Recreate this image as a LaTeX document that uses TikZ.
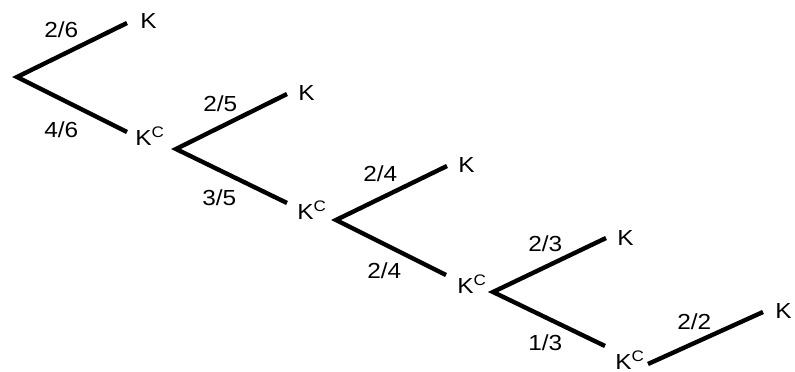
\documentclass[tikz,border=0pt]{standalone}
\usepackage{fontspec}
\setmainfont{Liberation Sans}
\usetikzlibrary{positioning}
\tikzset{
  branch/.style={line width=2.5pt, draw=black},
  lbl/.style={font=\fontsize{12.4}{14}\selectfont, inner sep=0pt, anchor=base west, xscale=1.12},
}

\begin{document}
\begin{tikzpicture}[x=0.02cm, y=-0.02cm]
  \useasboundingbox (0,0) rectangle (795,372);
  % first draw
  \coordinate (r1) at (17,77);
  \coordinate (u1) at (127,23);
  \coordinate (d1) at (127,132);
  \draw[branch] (u1) -- (r1) -- (d1);
  \node[lbl] (p1) at (44,37) {2/6};
  \node[lbl] (q1) at (44,137) {4/6};
  \node[lbl] (k1) at (140,29) {K};
  \node[lbl] (c1) at (135,145) {K\textsuperscript{C}};
  % second draw
  \coordinate (r2) at (176,149);
  \coordinate (u2) at (287,94);
  \coordinate (d2) at (287,203);
  \draw[branch] (u2) -- (r2) -- (d2);
  \node[lbl] (p2) at (203,111) {2/5};
  \node[lbl] (q2) at (202,205) {3/5};
  \node[lbl] (k2) at (298,100) {K};
  \node[lbl] (c2) at (297,219) {K\textsuperscript{C}};
  % third draw
  \coordinate (r3) at (336,220);
  \coordinate (u3) at (447,166);
  \coordinate (d3) at (446,275);
  \draw[branch] (u3) -- (r3) -- (d3);
  \node[lbl] (p3) at (363,181) {2/4};
  \node[lbl] (q3) at (367,278) {2/4};
  \node[lbl] (k3) at (458,172) {K};
  \node[lbl] (c3) at (457,293) {K\textsuperscript{C}};
  % fourth draw
  \coordinate (r4) at (493,292);
  \coordinate (u4) at (606,238);
  \coordinate (d4) at (605,346);
  \draw[branch] (u4) -- (r4) -- (d4);
  \node[lbl] (p4) at (528,251) {2/3};
  \node[lbl] (q4) at (528,350) {1/3};
  \node[lbl] (k4) at (617,245) {K};
  \node[lbl] (c4) at (615,369) {K\textsuperscript{C}};
  % last draw
  \coordinate (r5) at (648,364);
  \coordinate (u5) at (763,312);
  \draw[branch] (r5) -- (u5);
  \node[lbl] (p5) at (677,329) {2/2};
  \node[lbl] (k5) at (775,318) {K};
\end{tikzpicture}
\end{document}
